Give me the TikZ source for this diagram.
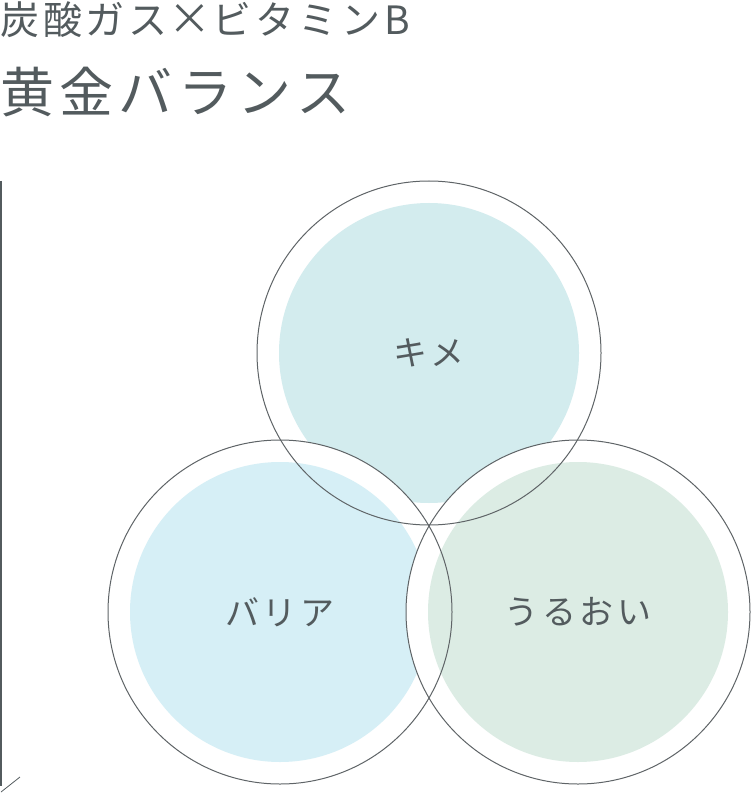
\documentclass[tikz,border=0pt]{standalone}
\usepackage{fontspec}
\setmainfont{Noto Sans CJK JP}[LetterSpace=10]
\usepackage{xcolor}
\definecolor{ink}{HTML}{535B5E}
\definecolor{rimgray}{HTML}{5F6467}
\definecolor{kimefill}{HTML}{D3ECEE}
\definecolor{barrierfill}{HTML}{D6EFF6}
\definecolor{moistfill}{HTML}{DCECE4}
\begin{document}
\begin{tikzpicture}[x=1pt,y=-1pt,
  rim/.style={draw=rimgray,line width=1pt},
  ring/.style={fill=white},
  circlabel/.style={text=ink,font=\fontsize{34}{34}\selectfont,inner sep=0}]
\useasboundingbox (0,0) rectangle (750,794);
% heading
\node[anchor=west,text=ink,font=\fontsize{39}{39}\selectfont,inner sep=0] (subtitle) at (0,20) {炭酸ガス\makebox[1.15em]{\scalebox{1.1}{×}}ビタミンB};
\node[anchor=west,text=ink,font=\fontsize{54}{54}\selectfont,inner sep=0] (title) at (0,92) {黄金バランス};
% side rule
\draw[ink,line width=2pt] (1,181) -- (1,786);
\draw[ink,line width=0.8pt] (1,792) -- (20,777);
% circles
\coordinate (kime) at (429,353);
\coordinate (barrier) at (280,612);
\coordinate (moist) at (578,612);
\fill[ring] (kime) circle (172pt);
\fill[kimefill] (kime) circle (150pt);
\fill[ring] (barrier) circle (172pt);
\fill[barrierfill] (barrier) circle (150pt);
\fill[ring] (moist) circle (172pt);
\fill[moistfill] (moist) circle (150pt);
\draw[rim] (kime) circle (172pt);
\draw[rim] (barrier) circle (172pt);
\draw[rim] (moist) circle (172pt);
\node[circlabel] (kimelabel) at (kime) {キメ};
\node[circlabel] (barrierlabel) at (barrier) {バリア};
\node[circlabel] (moistlabel) at (moist) {うるおい};
\end{tikzpicture}
\end{document}
